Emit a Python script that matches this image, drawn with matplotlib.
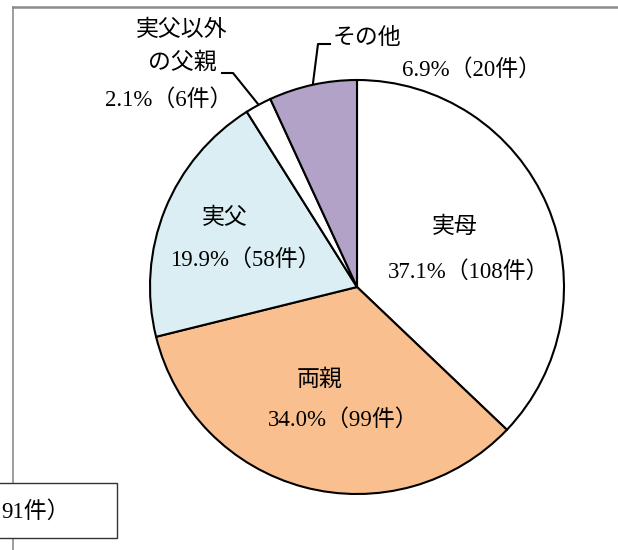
import matplotlib.pyplot as plt
from matplotlib.patches import Rectangle

plt.rcParams['font.family'] = ['Liberation Serif', 'Noto Sans CJK JP']

labels = ["実母", "両親", "実父", "実父以外\nの父親", "その他"]
counts = [108, 99, 58, 6, 20]
percents = ["37.1%", "34.0%", "19.9%", "2.1%", "6.9%"]
colors = ["#FFFFFF", "#F9BF8F", "#DAEEF3", "#FFFFFF", "#B2A2C7"]

W, H = 618, 550
fig = plt.figure(figsize=(W / 100, H / 100), dpi=100)
ax = fig.add_axes([0, 0, 1, 1])


def y(v):
    # image pixel row -> data coord
    return H - v


cx, cy, r = 357, 287, 207
ax.pie(counts, colors=colors, startangle=90, counterclock=False,
       center=(cx, y(cy)), radius=r, frame=True,
       wedgeprops=dict(edgecolor="black", linewidth=1.5))
ax.set_xlim(0, W)
ax.set_ylim(0, H)
ax.axis("off")

# outer frame lines
ax.plot([13, W], [y(7), y(7)], color="#8c8c8c", lw=1.8, clip_on=False)
ax.plot([13, 13], [y(7), 0], color="#8c8c8c", lw=1.2, clip_on=False)

fs = 16.5
pct_text = [f"{p}（{c}件）" for p, c in zip(percents, counts)]
line1, line2 = labels[3].split("\n")

# category names
ax.text(455, y(227), labels[0], ha="center", va="center", fontsize=fs)
ax.text(320, y(380), labels[1], ha="center", va="center", fontsize=fs)
ax.text(225, y(218), labels[2], ha="center", va="center", fontsize=fs)
ax.text(182, y(30), line1, ha="center", va="center", fontsize=fs)
ax.text(182, y(63), line2, ha="center", va="center", fontsize=fs)
ax.text(367, y(38), labels[4], ha="center", va="center", fontsize=fs)

# percentages (left aligned at the first digit)
ax.text(388, y(272), pct_text[0], ha="left", va="center", fontsize=fs)
ax.text(268, y(420), pct_text[1], ha="left", va="center", fontsize=fs)
ax.text(170, y(260), pct_text[2], ha="left", va="center", fontsize=fs)
ax.text(105, y(100), pct_text[3], ha="left", va="center", fontsize=fs)
ax.text(402, y(70), pct_text[4], ha="left", va="center", fontsize=fs)

# leader lines
ax.plot([222, 233, 258], [y(73), y(73), y(104)], color="black", lw=1.5)
ax.plot([330, 318, 313], [y(44), y(44), y(83)], color="black", lw=1.5)

# n box (cut off at the left edge)
ax.add_patch(Rectangle((-2, y(538)), 119, 55, facecolor="white",
                       edgecolor="#333333", lw=1.0, clip_on=False, zorder=3))
ax.text(70, y(512), "91件）", ha="right", va="center", fontsize=fs, zorder=4)

fig.savefig("out.png", dpi=100)
